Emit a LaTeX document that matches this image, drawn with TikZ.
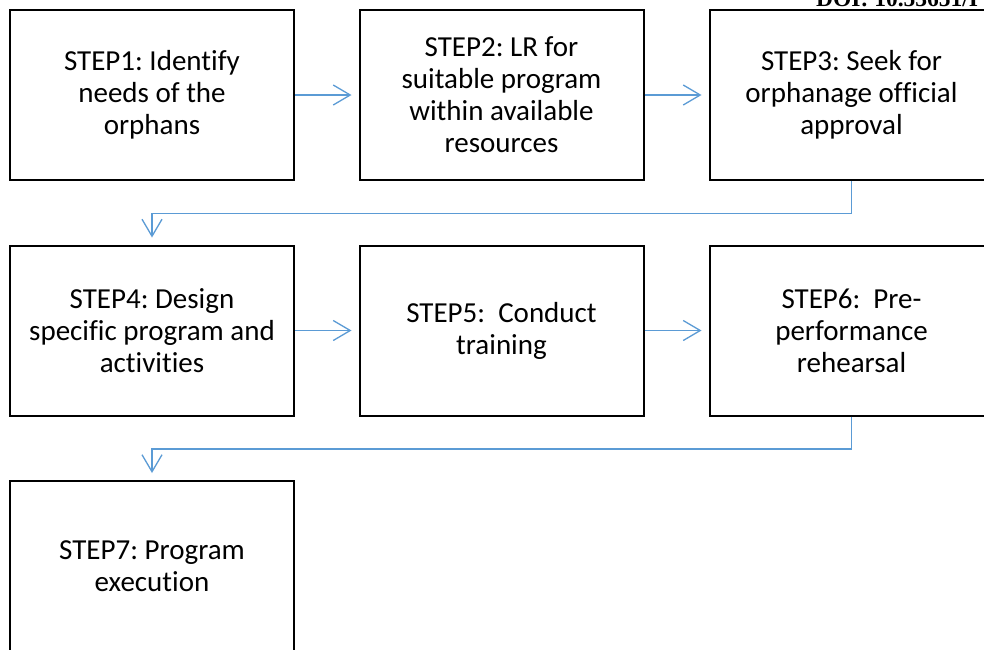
\documentclass[tikz,border=0pt]{standalone}
\usepackage{fontspec}
\setmainfont{Carlito}[Ligatures=CommonOff]
\newfontfamily\doifont{Liberation Serif}
\usetikzlibrary{arrows.meta}
\definecolor{connblue}{RGB}{91,155,213}
\frenchspacing
\tikzset{
  stepbox/.style={draw=black, line width=2pt, minimum width=284pt, minimum height=170pt,
    align=center, inner sep=0pt, font=\fontsize{29}{32}\selectfont, text=black},
  conn/.style={draw=connblue, line width=1.3pt, shorten >=7pt,
    -{Straight Barb[length=17pt, width=20pt, line width=1.3pt]}}
}
\begin{document}
\begin{tikzpicture}[x=1pt,y=-1pt]
\useasboundingbox (0,0) rectangle (984,649);
\clip (0,0) rectangle (984,649);
\fill[white] (0,0) rectangle (984,649);
\node[anchor=base west, inner sep=0pt, font=\doifont\bfseries\fontsize{23.5}{26}\selectfont] (doi) at (816,6) {DOI: 10.53651/I};
\node[stepbox] (s1) at (152,95) {STEP1: Identify\\needs of the\\orphans};
\node[stepbox] (s2) at (501.5,95) {STEP2: LR for\\suitable program\\within available\\resources};
\node[stepbox] (s3) at (851.5,95) {STEP3: Seek for\\orphanage official\\approval};
\node[stepbox] (s4) at (152,330.5) {STEP4: Design\\specific program and\\activities};
\node[stepbox] (s5) at (501.5,330.5) {STEP5:\ \ Conduct\\training};
\node[stepbox] (s6) at (851.5,330.5) {STEP6:\ \ Pre-\\performance\\rehearsal};
\node[stepbox] (s7) at (152,566) {STEP7: Program\\execution};
\draw[conn] (s1.east) -- (s2.west);
\draw[conn] (s2.east) -- (s3.west);
\draw[conn] (s4.east) -- (s5.west);
\draw[conn] (s5.east) -- (s6.west);
\draw[conn] (s3.south) -- ++(0,32.7) -| (s4.north);
\draw[conn] (s6.south) -- ++(0,32.5) -| (s7.north);
\end{tikzpicture}
\end{document}
